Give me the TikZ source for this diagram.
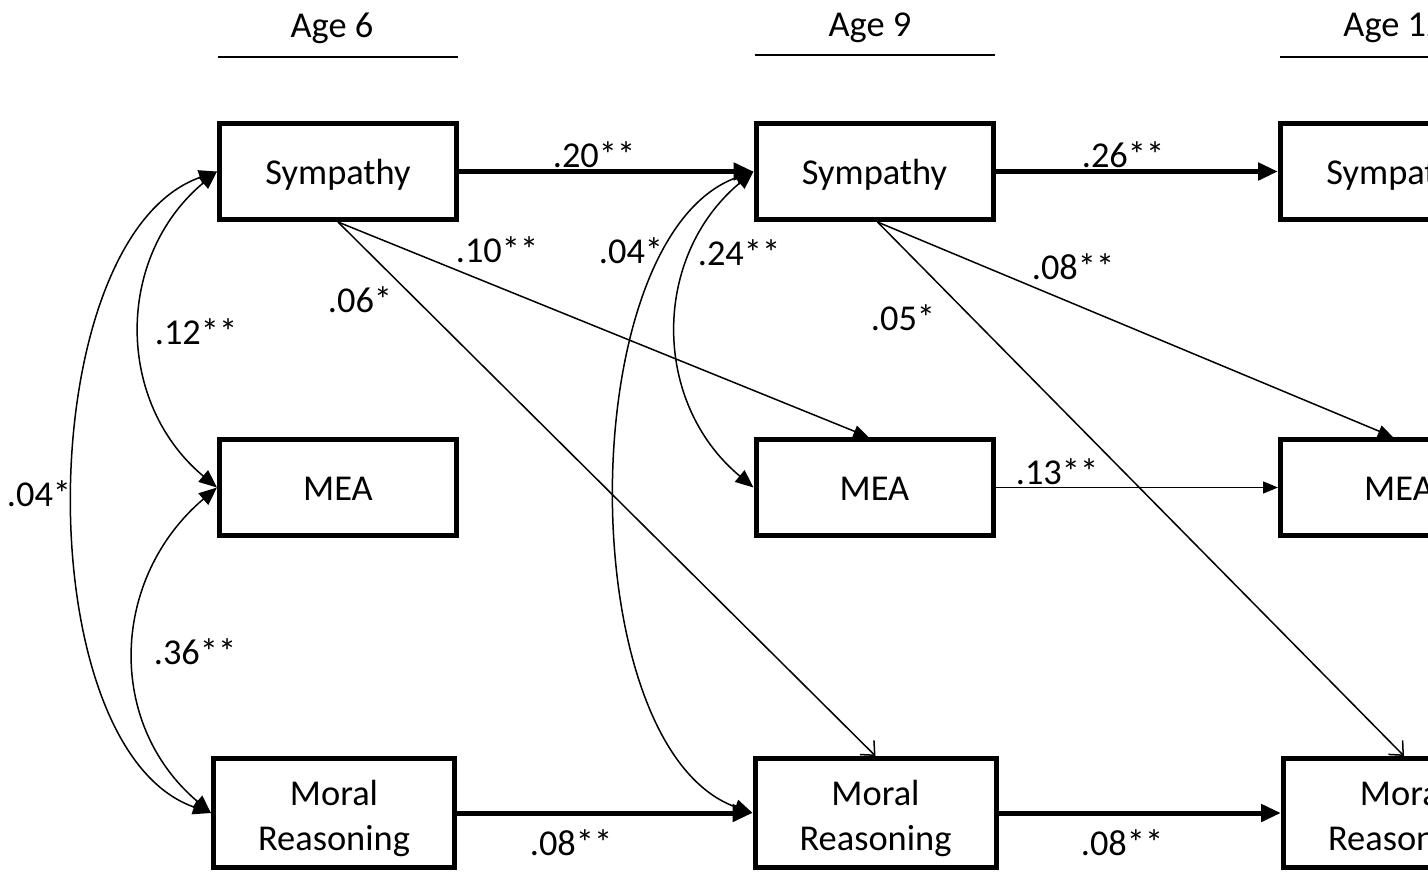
\documentclass[tikz,border=0pt]{standalone}
\usepackage{fontspec}
\setmainfont{Carlito}
\usetikzlibrary{arrows.meta}
\newcommand{\oneline}[2]{\raisebox{-#1pt}[0pt][0pt]{#2}}
\newcommand{\twolines}[2]{\raisebox{-37pt}[0pt][0pt]{\begin{tabular}[b]{@{}c@{}}#1\\#2\end{tabular}}}
\begin{document}
\begin{tikzpicture}[x=1pt,y=-1pt,
  box/.style={draw, line width=5pt, inner sep=0pt, minimum width=237pt, minimum height=96pt, align=center, font=\fontsize{36.4}{45}\selectfont},
  moralbox/.style={box, minimum width=241pt, minimum height=109pt},
  lbl/.style={inner sep=0pt, font=\fontsize{36.4}{45}\selectfont},
  agerule/.style={line width=1.5pt},
  mainarrow/.style={line width=5pt, -{Triangle[length=20pt,width=17pt]}},
  thinarrow/.style={line width=1.5pt, -{Triangle[length=15pt,width=12pt]}},
  openarrow/.style={line width=1.5pt, -{Straight Barb[length=11pt,width=20pt]}},
  cov/.style={line width=1.5pt, {Triangle[length=18pt,width=15pt]}-{Triangle[length=18pt,width=15pt]}}
]
\useasboundingbox (0,0) rectangle (1428,873);
\clip (0,0) rectangle (1428,873);

% headings
\node[lbl] (a6) at (332,28) {Age 6};
\node[lbl] (a9) at (870,28) {Age 9};
\node[lbl] (a12) at (1394,28) {Age 12};
\draw[agerule] (218,57) -- (458,57);
\draw[agerule] (755,55) -- (995,55);
\draw[agerule] (1280,57) -- (1520,57);

% boxes
\node[box] (s1) at (338,171.5) {\oneline{12.5}{Sympathy}};
\node[box] (m1) at (338,487.5) {\oneline{12.5}{MEA}};
\node[moralbox] (r1) at (334,813) {\twolines{Moral}{Reasoning}};
\node[box] (s2) at (874.5,171.5) {\oneline{12.5}{Sympathy}};
\node[box] (m2) at (874.5,487.5) {\oneline{12.5}{MEA}};
\node[moralbox] (r2) at (875.5,813) {\twolines{Moral}{Reasoning}};
\node[box] (s3) at (1399,171.5) {\oneline{12.5}{Sympathy}};
\node[box] (m3) at (1399,487.5) {\oneline{12.5}{MEA}};
\node[moralbox] (r3) at (1404,813) {\twolines{Moral}{Reasoning}};

% stability paths
\draw[mainarrow] (s1.east) -- (s2.west);
\draw[mainarrow] (s2.east) -- (s3.west);
\draw[mainarrow] (r1.east) -- (r2.west);
\draw[mainarrow] (r2.east) -- (r3.west);
\draw[thinarrow] (m2.east) -- (m3.west);

% cross-lagged paths
\draw[thinarrow] (s1.south) -- ([xshift=-6pt]m2.north);
\draw[openarrow] (s1.south) -- (r2.north);
\draw[thinarrow] ([xshift=3pt]s2.south) -- ([xshift=-6pt]m3.north);
\draw[openarrow] ([xshift=3pt]s2.south) -- (r3.north);

% covariances
\draw[cov] (s1.west) .. controls +(-102,85) and +(-102,-85) .. (m1.west);
\draw[cov] (m1.west) .. controls +(-106,90) and +(-106,-90) .. (r1.west);
\draw[cov] (s1.west) .. controls +(-186,65) and +(-186,-65) .. (r1.west);
\draw[cov] (s2.west) .. controls +(-102,85) and +(-102,-85) .. (m2.west);
\draw[cov] (s2.west) .. controls +(-182,65) and +(-182,-65) .. (r2.west);

% labels
\node[lbl] (l20) at (594,155) {.20**};
\node[lbl] (l26) at (1123,155) {.26**};
\node[lbl] (l10) at (497,250) {.10**};
\node[lbl] (l06) at (360,300) {.06*};
\node[lbl] (l12) at (196,332) {.12**};
\node[lbl] (l36) at (195,652) {.36**};
\node[lbl] (l04a) at (39,494) {.04*};
\node[lbl] (l04b) at (631,251) {.04*};
\node[lbl] (l24) at (739,253) {.24**};
\node[lbl] (l05) at (903,318) {.05*};
\node[lbl] (l08a) at (1073,267) {.08**};
\node[lbl] (l13) at (1057,472) {.13**};
\node[lbl] (l08b) at (571,843) {.08**};
\node[lbl] (l08c) at (1122,843) {.08**};
\end{tikzpicture}
\end{document}
